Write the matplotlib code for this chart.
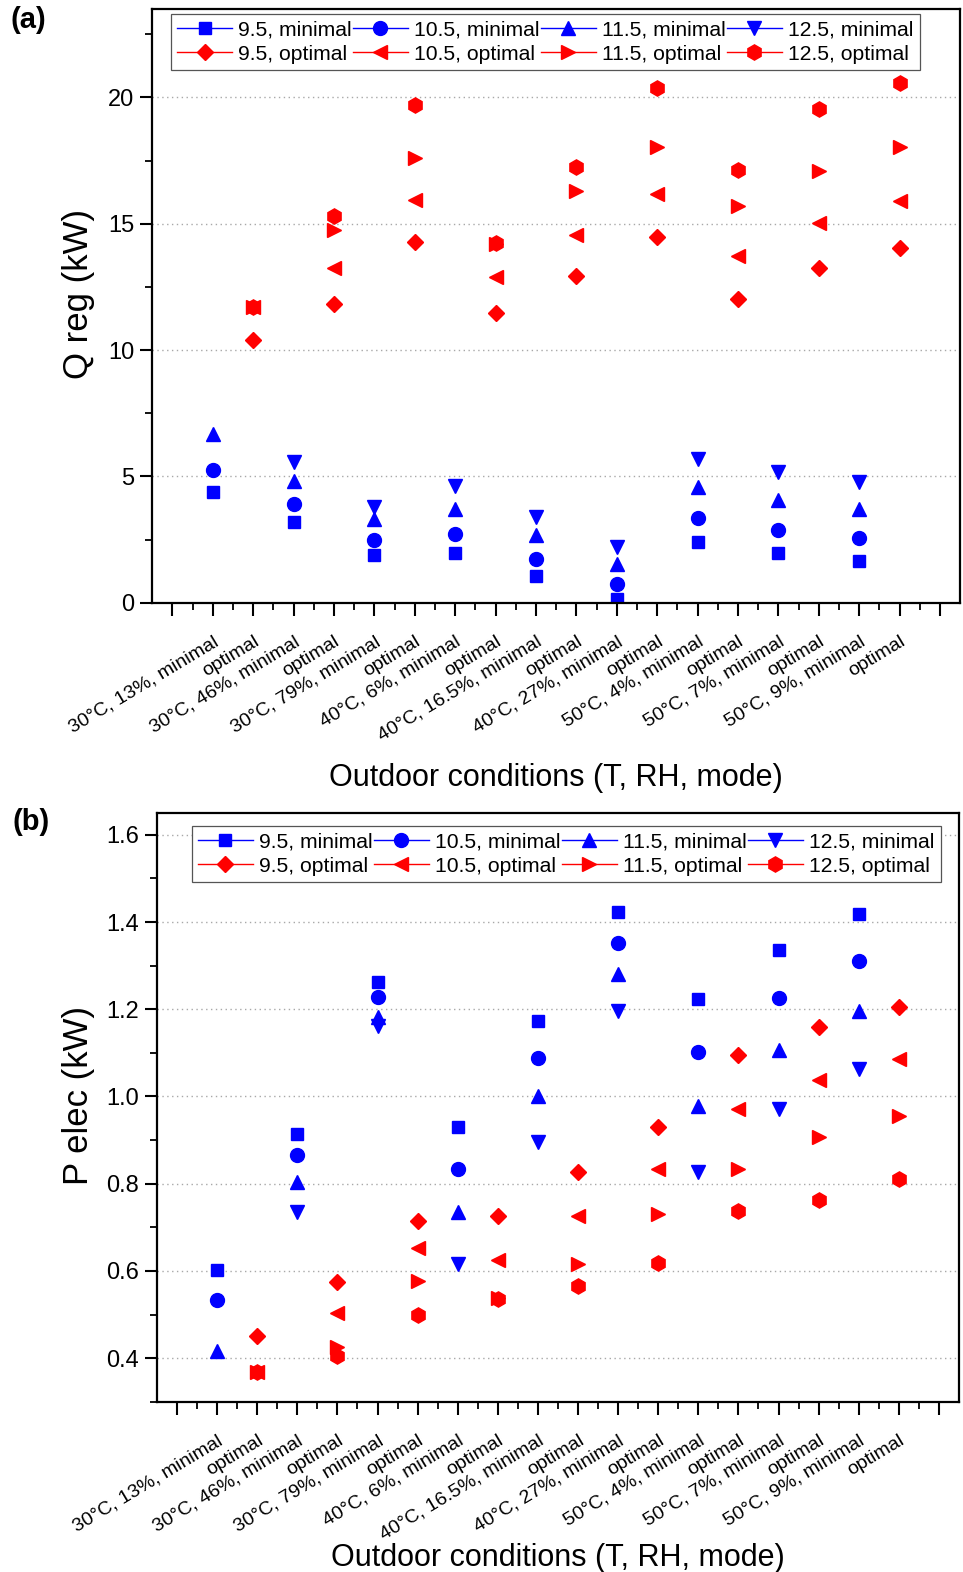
"""
Q_reg and P_elec under the nine outdoor conditions, minimal vs optimal mode.
Two stacked panels, (a) regeneration heat and (b) electric power.

Usage: python plot.py
"""

import numpy as np
import matplotlib
matplotlib.use("Agg")
import matplotlib.pyplot as plt
from matplotlib.lines import Line2D
from matplotlib.ticker import FixedLocator, MultipleLocator

plt.rcParams.update({
    "font.family": ["Liberation Sans", "DejaVu Sans"],
    "axes.linewidth": 1.6,
    "xtick.direction": "out",
    "ytick.direction": "out",
})

# ================================================================
# Data
# ================================================================
CONDITIONS = ["30°C, 13%", "30°C, 46%", "30°C, 79%",
              "40°C, 6%", "40°C, 16.5%", "40°C, 27%",
              "50°C, 4%", "50°C, 7%", "50°C, 9%"]
SETPOINTS = ["9.5", "10.5", "11.5", "12.5"]

# (a) Q reg (kW), minimal mode
q_min_95 = [4.40, 3.20, 1.87, 1.97, 1.07, 0.16, 2.40, 1.96, 1.64]
q_min_105 = [5.25, 3.90, 2.50, 2.73, 1.73, 0.73, 3.37, 2.89, 2.56]
q_min_115 = [6.67, 4.80, 3.33, 3.69, 2.67, 1.53, 4.57, 4.07, 3.70]
q_min_125 = [np.nan, 5.56, 3.80, 4.60, 3.40, 2.20, 5.69, 5.16, 4.76]
# (a) Q reg (kW), optimal mode
q_opt_95 = [10.40, 11.83, 14.28, 11.46, 12.95, 14.48, 12.03, 13.26, 14.03]
q_opt_105 = [11.72, 13.26, 15.93, 12.91, 14.54, 16.17, 13.72, 15.03, 15.89]
q_opt_115 = [11.72, 14.74, 17.62, 14.20, 16.30, 18.05, 15.70, 17.10, 18.03]
q_opt_125 = [11.72, 15.30, 19.68, 14.22, 17.23, 20.37, 17.13, 19.54, 20.57]

# (b) P elec (kW), minimal mode
p_min_95 = [0.603, 0.913, 1.263, 0.930, 1.172, 1.424, 1.224, 1.337, 1.419]
p_min_105 = [0.534, 0.865, 1.228, 0.834, 1.088, 1.352, 1.103, 1.226, 1.310]
p_min_115 = [0.416, 0.804, 1.183, 0.735, 1.000, 1.280, 0.979, 1.107, 1.195]
p_min_125 = [np.nan, 0.735, 1.162, 0.616, 0.896, 1.195, 0.827, 0.971, 1.063]
# (b) P elec (kW), optimal mode
p_opt_95 = [0.450, 0.574, 0.714, 0.727, 0.827, 0.930, 1.096, 1.159, 1.205]
p_opt_105 = [0.368, 0.503, 0.653, 0.624, 0.726, 0.834, 0.971, 1.038, 1.086]
p_opt_115 = [0.368, 0.425, 0.577, 0.538, 0.615, 0.730, 0.834, 0.906, 0.956]
p_opt_125 = [0.368, 0.404, 0.500, 0.535, 0.565, 0.618, 0.737, 0.762, 0.811]

# ================================================================
# Style
# ================================================================
BLUE = "#0000ff"
RED = "#ff0000"
MIN_MARKERS = [("s", 9), ("o", 10), ("^", 10), ("v", 10)]
OPT_MARKERS = [("D", 8.5), ("<", 10.5), (">", 10.5), ("h", 11)]

TICK_LABELS = []
for c in CONDITIONS:
    TICK_LABELS += [f"{c}, minimal", "optimal"]

X_MIN = np.arange(1, 19, 2)   # minimal-mode slots
X_OPT = np.arange(2, 20, 2)   # optimal-mode slots


def draw_panel(ax, min_series, opt_series, ylim, major, minor, ylabel, legend_xy):
    for (m, ms), ys in zip(MIN_MARKERS, min_series):
        ax.plot(X_MIN, ys, ls="none", marker=m, ms=ms, color=BLUE, mec=BLUE)
    for (m, ms), ys in zip(OPT_MARKERS, opt_series):
        ax.plot(X_OPT, ys, ls="none", marker=m, ms=ms, color=RED, mec=RED)

    ax.set_xlim(-0.5, 19.5)
    ax.set_ylim(*ylim)
    ax.xaxis.set_major_locator(FixedLocator(np.arange(0, 20)))
    ax.xaxis.set_minor_locator(FixedLocator(np.arange(0.5, 19.5, 1)))
    ax.set_xticklabels([""] + TICK_LABELS + [""], rotation=31, ha="right",
                       va="top", rotation_mode="anchor", fontsize=14)

    ax.yaxis.set_major_locator(MultipleLocator(major))
    ax.yaxis.set_minor_locator(MultipleLocator(minor))
    ax.tick_params(axis="both", which="major", length=9, width=1.5)
    ax.tick_params(axis="both", which="minor", length=5, width=1.3)
    ax.tick_params(axis="y", labelsize=17, pad=4)
    ax.tick_params(axis="x", which="major", pad=13)

    ax.yaxis.grid(True, which="major", linestyle=(0, (1, 2.5)), color="#a8a8a8", lw=1.0)
    ax.set_axisbelow(True)

    ax.set_ylabel(ylabel, fontsize=25)
    ax.set_xlabel("Outdoor conditions (T, RH, mode)", fontsize=22)

    # legend: minimal on the first row, optimal on the second
    handles, labels = [], []
    for i, sp in enumerate(SETPOINTS):
        m, ms = MIN_MARKERS[i]
        handles.append(Line2D([], [], color=BLUE, lw=1.0, marker=m, ms=ms))
        labels.append(f"{sp}, minimal")
        m, ms = OPT_MARKERS[i]
        handles.append(Line2D([], [], color=RED, lw=1.0, marker=m, ms=ms))
        labels.append(f"{sp}, optimal")
    leg = ax.legend(handles, labels, ncol=4, loc="upper left", bbox_to_anchor=legend_xy,
                    borderaxespad=0, fontsize=15.2, frameon=True, fancybox=False,
                    framealpha=1, edgecolor="#555555", handlelength=2.6,
                    handletextpad=0.3, columnspacing=0.05, labelspacing=0.25,
                    borderpad=0.3)
    leg.get_frame().set_linewidth(0.9)


def main():
    fig = plt.figure(figsize=(9.63, 15.72), dpi=100)
    ax_a = fig.add_axes([0.158, 0.6166, 0.839, 0.3777])
    ax_b = fig.add_axes([0.163, 0.1083, 0.8328, 0.3745])

    draw_panel(ax_a,
               [q_min_95, q_min_105, q_min_115, q_min_125],
               [q_opt_95, q_opt_105, q_opt_115, q_opt_125],
               (0, 23.5), 5, 2.5, "Q reg (kW)", (0.023, 0.9916))
    draw_panel(ax_b,
               [p_min_95, p_min_105, p_min_115, p_min_125],
               [p_opt_95, p_opt_105, p_opt_115, p_opt_125],
               (0.3, 1.65), 0.2, 0.1, "P elec (kW)", (0.0433, 0.978))

    ax_a.yaxis.set_label_coords(-0.0705, 0.52)
    ax_b.yaxis.set_label_coords(-0.077, 0.52)
    ax_a.xaxis.set_label_coords(0.5, -0.27)
    ax_b.xaxis.set_label_coords(0.5, -0.24)

    fig.text(0.011, 0.9965, "(a)", fontsize=21, fontweight="bold", va="top", ha="left")
    fig.text(0.013, 0.486, "(b)", fontsize=21, fontweight="bold", va="top", ha="left")

    fig.savefig("out.png", dpi=100)
    plt.close(fig)


if __name__ == "__main__":
    main()
